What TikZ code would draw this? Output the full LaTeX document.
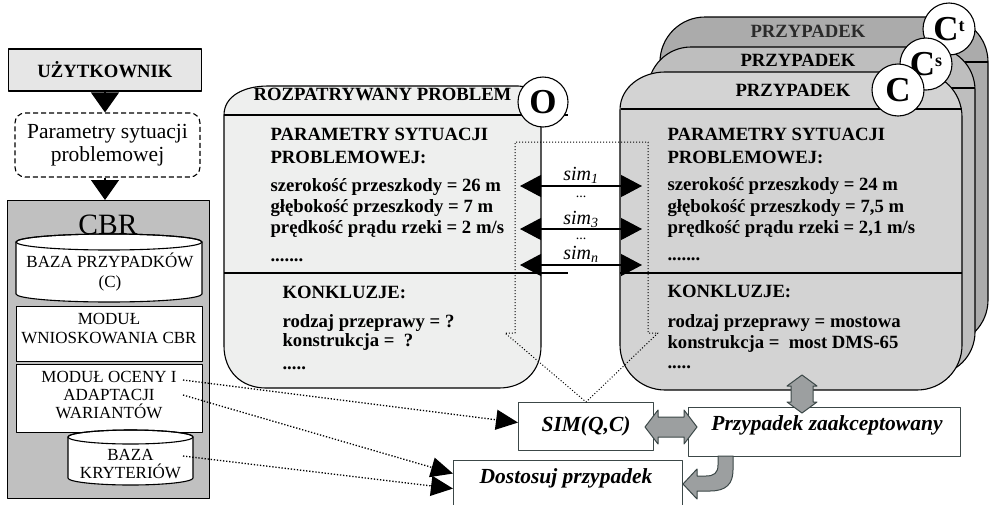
\documentclass[tikz,border=0pt]{standalone}
\usepackage{fontspec}
\setmainfont{Liberation Serif}
\usetikzlibrary{arrows.meta,calc}
\definecolor{cbrgray}{HTML}{C0C0C0}
\definecolor{panelL}{HTML}{EEEFEE}
\definecolor{cardF}{HTML}{D3D3D3}
\definecolor{cardM}{HTML}{BEBEBE}
\definecolor{cardB}{HTML}{ABABAB}
\definecolor{arrgray}{HTML}{9C9FA0}
\definecolor{boxedge}{HTML}{3C4848}
\definecolor{usergray}{HTML}{E6E6E6}
\definecolor{hdrgray}{HTML}{2A2A2A}
\tikzset{
  tb/.style={font=\fontsize{18.7}{22}\selectfont\bfseries, inner sep=0pt, anchor=west, text height=13pt, text depth=4pt},
  tbc/.style={tb, anchor=center},
  cbrtext/.style={font=\fontsize{17}{19}\selectfont, align=center, inner sep=0pt},
  circ/.style={circle, draw, fill=white, minimum size=52pt, inner sep=0pt, font=\fontsize{35}{35}\selectfont\bfseries},
  whitebox/.style={draw, fill=white, inner sep=0pt, anchor=north west},
  outbox/.style={draw=boxedge, fill=white, inner sep=0pt, anchor=north west},
  bitext/.style={font=\fontsize{21.5}{24}\selectfont\bfseries\itshape, inner sep=0pt},
  simlab/.style={font=\fontsize{20}{22}\selectfont\itshape, inner sep=0pt},
  smalldots/.style={font=\fontsize{14}{14}\selectfont, inner sep=0pt},
  bigtip/.style={-{Triangle[length=20pt,width=28pt]}},
  simarr/.style={{Triangle[length=21pt,width=22pt]}-{Triangle[length=21pt,width=22pt]}},
  dotarr/.style={-{Triangle[length=22pt,width=20pt]}, line width=1.3pt, dash pattern=on 1.3pt off 1.8pt},
  dotline/.style={line width=1pt, dash pattern=on 1pt off 2pt},
  blockarr/.style={fill=arrgray, draw=boxedge, line width=1pt},
}
\begin{document}
\begin{tikzpicture}[x=1pt,y=-1pt,line width=1.1pt,line join=round]
\useasboundingbox (0,0) rectangle (990,504);

% ---------------- left column ----------------
\node[draw, fill=usergray, minimum width=193pt, minimum height=42pt, inner sep=0pt,
      font=\fontsize{18.7}{22}\selectfont\bfseries] (user) at (105,70) {UŻYTKOWNIK};
\node[draw, dash pattern=on 5pt off 3pt, rounded corners=10pt, minimum width=185pt,
      minimum height=64pt, inner sep=0pt, align=center,
      font=\fontsize{21.5}{23}\selectfont] (param) at (107.5,145) {Parametry sytuacji\\problemowej};
\node[draw, fill=cbrgray, minimum width=202pt, minimum height=298pt, inner sep=0pt,
      anchor=north west] (cbr) at (7,200) {};
\draw[bigtip] (user.south) -- (user.south |- param.north);
\draw[bigtip] (user.south |- param.south) -- (user.south |- cbr.north);
\node[font=\fontsize{29.5}{30}\selectfont, inner sep=0pt] (cbrt) at (108,225) {CBR};

% cylinder 1
\draw[fill=white] (16,242) -- (16,294) arc[start angle=180, end angle=360, x radius=93pt, y radius=8pt]
  -- (202,242) arc[start angle=0, end angle=180, x radius=93pt, y radius=8pt] -- cycle;
\draw (109,242) ellipse[x radius=93pt, y radius=8pt];
\node[cbrtext, font=\fontsize{17}{20}\selectfont] (cyl1) at (110,272) {BAZA PRZYPADKÓW\\(C)};

\node[whitebox, minimum width=186pt, minimum height=55pt] (mwn) at (16,306) {};
\node[cbrtext] (mwnt) at (109,328.5) {MODUŁ\\WNIOSKOWANIA CBR};
\node[whitebox, minimum width=186pt, minimum height=68pt] (mod) at (16,364) {};
\node[cbrtext, font=\fontsize{17}{18}\selectfont] (modt) at (109,395) {MODUŁ OCENY I\\ADAPTACJI\\WARIANTÓW};

% cylinder 2
\draw[fill=white] (68,437) -- (68,478) arc[start angle=180, end angle=360, x radius=62.5pt, y radius=7pt]
  -- (193,437) arc[start angle=0, end angle=180, x radius=62.5pt, y radius=7pt] -- cycle;
\draw (130.5,437) ellipse[x radius=62.5pt, y radius=7pt];
\node[cbrtext, font=\fontsize{17}{18}\selectfont] (kryt) at (130.5,464) {BAZA\\KRYTERIÓW};

% ---------------- left panel ----------------
\draw[fill=panelL] (224,115) .. controls (224,96) and (244,86) .. (268,86) -- (518,86)
  .. controls (532,86) and (541,96) .. (541,112) -- (541,346)
  .. controls (541,371) and (524,388) .. (499,388) -- (266,388)
  .. controls (241,388) and (224,371) .. (224,346) -- cycle;
\draw (224,115) -- (568,115);
\draw (224,273) -- (568,273);
\node[tb] (lph) at (253,96) {ROZPATRYWANY PROBLEM};
\node[circ, minimum size=50pt] (O) at (543,102) {O};
\node[tb] (lp1) at (270,136) {PARAMETRY SYTUACJI};
\node[tb] (lp2) at (270,159) {PROBLEMOWEJ:};
\node[tb] (lp3) at (270,187) {szerokość przeszkody = 26 m};
\node[tb] (lp4) at (270,208) {głębokość przeszkody = 7 m};
\node[tb] (lp5) at (270,229) {prędkość prądu rzeki = 2 m/s};
\node[tb] (lp6) at (270,257) {.......};
\node[tb] (lk1) at (282,294) {KONKLUZJE:};
\node[tb] (lk2) at (282,323) {rodzaj przeprawy = ?};
\node[tb] (lk3) at (282,342) {konstrukcja =\ \ ?};
\node[tb] (lk4) at (282,365) {.....};

% ---------------- card stack ----------------
\draw[fill=cardB, rounded corners=45pt] (660,17) rectangle (988,345);
\draw (700,62) -- (988,62);
\node[tbc, text=hdrgray] (hb) at (808,33) {PRZYPADEK};
\draw[fill=cardM, rounded corners=43pt] (648,47) rectangle (975,375);
\draw (680,88) -- (975,88);
\node[tbc] (hm) at (798,62) {PRZYPADEK};
\draw[fill=cardF] (620,110) .. controls (620,87) and (642,72) .. (665,72) -- (917,72)
  .. controls (942,72) and (962,92) .. (962,117) -- (962,345)
  .. controls (962,370) and (942,390) .. (917,390) -- (665,390)
  .. controls (640,390) and (620,370) .. (620,345) -- cycle;
\draw (621,109) -- (962,109);
\draw (620,273) -- (962,273);
\node[tbc] (hf) at (793,92) {PRZYPADEK};
\node[circ] (ct) at (949,29) {C\raisebox{9pt}{\fontsize{18}{18}\selectfont t}};
\node[circ] (cs) at (926,64) {C\raisebox{9pt}{\fontsize{18}{18}\selectfont s}};
\node[circ] (cc) at (898,90) {C};

\node[tb] (rp1) at (667,136) {PARAMETRY SYTUACJI};
\node[tb] (rp2) at (667,159) {PROBLEMOWEJ:};
\node[tb] (rp3) at (667,186) {szerokość przeszkody = 24 m};
\node[tb] (rp4) at (667,208) {głębokość przeszkody = 7,5 m};
\node[tb] (rp5) at (667,229) {prędkość prądu rzeki = 2,1 m/s};
\node[tb] (rp6) at (667,256) {.......};
\node[tb] (rk1) at (667,293) {KONKLUZJE:};
\node[tb] (rk2) at (667,323) {rodzaj przeprawy = mostowa};
\node[tb] (rk3) at (667,344) {konstrukcja =\ \ most DMS-65};
\node[tb] (rk4) at (667,364) {.....};

% ---------------- bottom boxes ----------------
\node[outbox, minimum width=135pt, minimum height=48pt, bitext] (sim) at (518,402) {SIM(Q,C)};
\node[outbox, minimum width=272pt, minimum height=49pt] (acc) at (688,407) {};
\node[bitext] (acct) at (827,425) {Przypadek zaakceptowany};
\node[outbox, minimum width=229pt, minimum height=46pt] (dost) at (453,460) {};
\node[bitext] (dostt) at (566,478) {Dostosuj przypadek};

% dotted block-arrow outline
\coordinate (ol) at (515,333);
\coordinate (or) at (648,333);
\draw[dotline] (ol) -- (515,142) -- (648,142) -- (or) -- (658,333) -- (sim.north) -- (505,333) -- cycle;

% similarity arrows
\coordinate (a1l) at (520,186); \coordinate (a1r) at (642,186);
\coordinate (a3l) at (520,229); \coordinate (a3r) at (642,229);
\coordinate (anl) at (520,265); \coordinate (anr) at (642,265);
\draw[simarr] (a1l) -- (a1r);
\draw[simarr] (a3l) -- (a3r);
\draw[simarr] (anl) -- (anr);
\node[simlab] (s1) at (581,175) {sim\textsubscript{1}};
\node[smalldots] (e1) at (581,197) {...};
\node[simlab] (s3) at (581,219) {sim\textsubscript{3}};
\node[smalldots] (e2) at (581,239) {...};
\node[simlab] (sn) at (581,254) {sim\textsubscript{n}};

% gray block arrows
\draw[blockarr] (645,427) -- (658,410) -- (658,417) -- (684,417) -- (684,410) -- (697,427)
  -- (684,444) -- (684,437) -- (658,437) -- (658,444) -- cycle;
\draw[blockarr] (802,375) -- (817,386) -- (813,386) -- (813,402) -- (817,402) -- (802,413)
  -- (787,402) -- (791,402) -- (791,386) -- (787,386) -- cycle;
\draw[blockarr] (718,456) -- (718,465) .. controls (718,473) and (714,476) .. (706,476)
  -- (697,476) -- (697,469) -- (683,484) -- (697,499) -- (697,491) -- (710,491)
  .. controls (726,491) and (733,484) .. (733,470) -- (733,456) -- cycle;

% dotted connectors from CBR modules
\coordinate (d1) at (183,380);
\coordinate (d2) at (183,395);
\coordinate (d3) at (183,456);
\draw[dotarr] (d1) -- ($(sim.west)+(0,-4)$);
\draw[dotarr] (d2) -- ($(dost.west)+(0,-10)$);
\draw[dotarr] (d3) -- ($(dost.west)+(0,5)$);
\end{tikzpicture}
\end{document}
